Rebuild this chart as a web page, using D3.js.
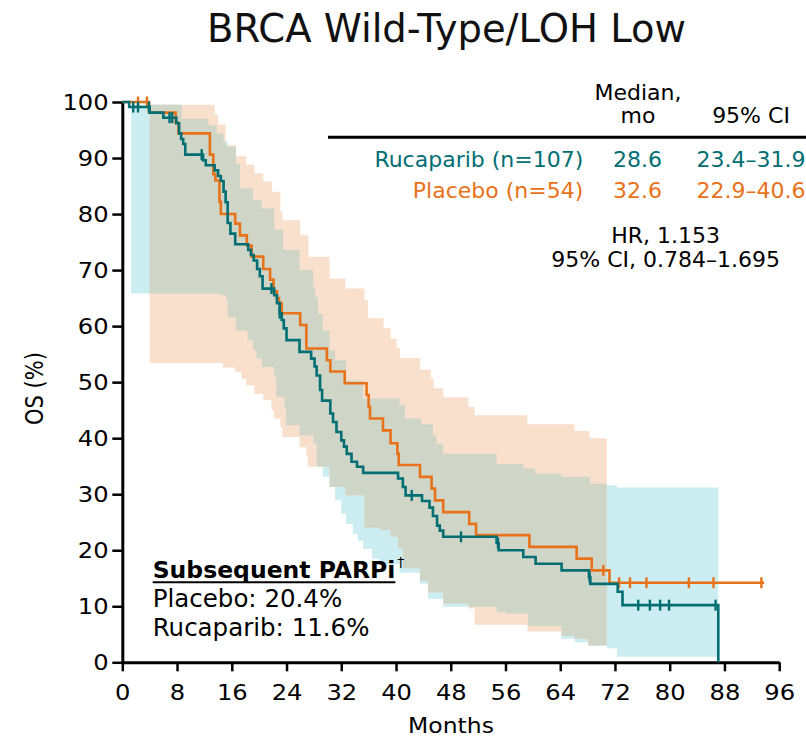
<!DOCTYPE html>
<html>
<head>
<meta charset="utf-8">
<script src="https://cdn.jsdelivr.net/npm/d3@7"></script>
<style>
  body { margin: 0; background: #fff; }
  svg { display: block; font-family: "DejaVu Sans", Verdana, sans-serif; }
</style>
</head>
<body>
<div id="chart"></div>
<script>
// ---- data ----
const xTicks = [0, 8, 16, 24, 32, 40, 48, 56, 64, 72, 80, 88, 96];
const yTicks = [0, 10, 20, 30, 40, 50, 60, 70, 80, 90, 100];

// [month, OS %] step points (Kaplan-Meier)
const rucaparibKM = [
  [0, 100], [1.0, 99.1], [4.0, 98.1], [6.0, 97.2], [7.9, 96.2], [8.3, 94.4], [8.6, 93.4],
  [8.9, 92.5], [9.2, 90.6], [11.8, 89.6], [12.2, 88.7], [13.5, 87.8], [14.0, 86.8],
  [14.4, 85.9], [14.8, 84.0], [15.1, 82.1], [15.4, 78.4], [15.8, 76.5], [16.5, 74.6],
  [18.4, 73.6], [18.8, 72.7], [19.2, 71.7], [19.7, 70.2], [20.1, 68.9], [20.5, 66.7],
  [22.2, 65.5], [22.6, 64.1], [23.0, 62.3], [23.3, 61.1], [23.6, 59.6], [24.0, 57.5],
  [25.9, 55.4], [27.6, 54.2], [28.1, 52.8], [28.4, 51.2], [28.9, 48.6], [29.2, 46.7],
  [30.4, 44.4], [30.8, 42.9], [31.3, 41.1], [32.0, 39.6], [32.4, 38.5], [32.8, 37.2],
  [33.5, 35.8], [34.3, 34.9], [35.2, 33.8], [40.3, 32.8], [41.0, 31.3], [41.4, 29.8],
  [43.8, 28.8], [44.9, 27.6], [45.4, 26.1], [46.0, 24.4], [46.4, 23.5], [46.9, 22.4],
  [54.7, 21.3], [55.0, 20.0], [58.6, 18.8], [60.4, 17.6], [64.2, 16.4], [68.2, 15.2],
  [68.4, 14.0], [72.4, 12.6], [73.1, 10.2], [87.1, 0]
];
const placeboKM = [
  [0, 100], [3.9, 98.1], [7.8, 96.3], [8.2, 94.4], [12.8, 90.6], [13.3, 87.1], [13.6, 86.0],
  [14.2, 82.2], [14.4, 80.0], [16.5, 78.3], [17.2, 76.2], [18.2, 74.4], [18.9, 72.4],
  [20.6, 70.2], [21.6, 68.3], [22.1, 66.2], [22.6, 65.0], [22.9, 64.1], [23.3, 62.3],
  [26.0, 60.2], [26.9, 56.0], [29.9, 53.9], [30.4, 51.9], [32.5, 49.8], [35.7, 47.7],
  [36.0, 45.6], [36.2, 43.5], [38.1, 41.4], [39.2, 39.1], [40.2, 37.2], [40.4, 35.2],
  [43.5, 33.1], [45.2, 31.0], [45.7, 28.9], [46.9, 26.8], [50.7, 24.7], [51.7, 22.7],
  [59.5, 20.6], [66.4, 18.5], [68.6, 16.4], [71.2, 14.2], [93.8, 14.2]
];

// censored observations (months)
const rucaparibCensor = [1.6, 2.3, 3.9, 6.9, 7.3, 11.6, 21.8, 23.0, 42.3, 49.5, 54.9, 68.3,
  75.4, 77.1, 78.6, 79.9, 86.7];
const placeboCensor = [2.3, 3.6, 70.3, 72.6, 74.2, 76.6, 82.8, 86.4, 93.4];

// 95% CI bands: [month, lower, upper]
const rucaparibBand = [
  [1.3, 65.8, 99.5], [8.7, 65.8, 97.0], [12.6, 65.8, 95.8], [13.8, 65.8, 94.4],
  [14.2, 65.5, 94.4], [14.8, 65.5, 93.0], [15.2, 64.6, 93.0], [15.4, 61.6, 92.0],
  [16.6, 59.2, 89.0], [17.2, 59.2, 84.6], [18.3, 57.5, 84.6], [19.1, 55.7, 82.5],
  [19.6, 54.2, 82.5], [20.4, 52.7, 81.0], [22.2, 50.9, 77.2], [22.5, 47.4, 77.2],
  [23.5, 47.4, 73.6], [23.7, 45.6, 73.6], [23.9, 42.3, 73.6], [25.9, 40.5, 70.0],
  [27.9, 39.0, 67.0], [28.2, 39.0, 65.2], [28.4, 35.1, 65.2], [28.6, 34.9, 62.2],
  [29.3, 33.1, 59.2], [30.3, 31.3, 55.7], [31.1, 28.9, 53.9], [32.0, 26.5, 53.9],
  [32.7, 24.7, 50.3], [33.7, 22.9, 50.3], [34.4, 21.7, 50.3], [35.2, 20.2, 47.1],
  [36.5, 18.5, 47.1], [37.5, 17.5, 47.1], [40.5, 16.0, 45.9], [41.3, 16.0, 43.5],
  [43.5, 14.0, 43.5], [43.7, 14.0, 42.5], [44.7, 11.3, 42.5], [45.4, 11.3, 40.5],
  [45.9, 11.3, 39.0], [46.9, 9.9, 37.2], [47.2, 9.9, 37.2], [54.7, 9.0, 35.4],
  [56.0, 8.7, 35.4], [58.6, 8.7, 34.6], [59.3, 6.5, 34.6], [60.3, 6.5, 33.7],
  [64.2, 4.2, 33.1], [66.1, 3.6, 33.1], [68.1, 3.0, 33.1], [68.4, 3.0, 31.9],
  [70.8, 2.5, 31.6], [72.3, 1.0, 31.2], [87.1, 1.0, 31.2]
];
const placeboBand = [
  [4.0, 53.4, 99.5], [13.5, 53.4, 97.8], [14.0, 53.4, 96.0], [14.7, 52.6, 96.0],
  [15.1, 52.6, 92.3], [16.5, 51.8, 92.3], [16.6, 51.8, 90.3], [17.4, 50.6, 90.3],
  [18.1, 49.4, 88.8], [19.3, 47.9, 87.3], [20.6, 46.8, 85.8], [21.8, 45.0, 85.8],
  [21.9, 45.0, 84.0], [22.2, 43.5, 84.0], [23.1, 42.0, 80.5], [23.4, 40.2, 78.9],
  [25.9, 38.4, 78.9], [26.0, 38.4, 76.2], [26.9, 36.7, 76.2], [27.1, 34.9, 76.2],
  [27.2, 34.9, 72.4], [30.3, 31.3, 68.5], [32.6, 29.8, 66.7], [35.4, 24.0, 64.6],
  [35.9, 24.0, 61.4], [37.6, 23.6, 61.4], [38.2, 23.6, 59.6], [39.2, 22.4, 57.8],
  [40.1, 22.4, 56.1], [40.3, 20.3, 56.1], [40.6, 20.3, 54.3], [41.0, 16.8, 54.3],
  [43.5, 14.5, 52.2], [44.7, 12.5, 52.2], [45.1, 12.5, 50.6], [45.5, 12.5, 48.9],
  [46.9, 10.5, 47.3], [50.6, 9.6, 45.6], [51.5, 6.7, 44.1], [59.2, 5.5, 42.5],
  [64.2, 4.7, 42.5], [66.1, 4.2, 41.3], [68.1, 3.0, 41.3], [68.3, 3.0, 40.0],
  [70.8, 3.0, 40.0]
];

const arms = ["Rucaparib (n=107)", "Placebo (n=54)"];
const medians = ["28.6", "32.6"];
const medianCIs = ["23.4\u201331.9", "22.9\u201340.6"];
const hrLines = ["HR, 1.153", "95% CI, 0.784\u20131.695"];
const parpiLines = ["Placebo: 20.4%", "Rucaparib: 11.6%"];

const teal = "#006e73";
const orange = "#e8721a";

// ---- chart ----
const width = 806, height = 738;
const svg = d3.select("#chart").append("svg")
  .attr("width", width)
  .attr("height", height);

const x = d3.scaleLinear().domain([0, 96]).range([122.3, 779.2]);
const y = d3.scaleLinear().domain([0, 100]).range([662.3, 102]);

const stepAt = (arr, t) => {
  let v = arr[0];
  for (const d of arr) { if (d[0] <= t) v = d; else break; }
  return v;
};

// overlap of the two CI bands
const oStart = Math.max(rucaparibBand[0][0], placeboBand[0][0]);
const oEnd = Math.min(rucaparibBand[rucaparibBand.length - 1][0], placeboBand[placeboBand.length - 1][0]);
const oMonths = Array.from(new Set(rucaparibBand.concat(placeboBand).map(d => d[0])
  .filter(m => m >= oStart && m <= oEnd).concat([oStart, oEnd]))).sort((a, b) => a - b);
const overlapBand = oMonths.map(m => {
  const a = stepAt(rucaparibBand, m), b = stepAt(placeboBand, m);
  const lo = Math.max(a[1], b[1]);
  const hi = Math.min(a[2], b[2]);
  return [m, lo, Math.max(lo, hi)];
});

const band = d3.area()
  .curve(d3.curveStepAfter)
  .x(d => x(d[0]))
  .y0(d => y(d[1]))
  .y1(d => y(d[2]));

svg.append("path").attr("d", band(rucaparibBand)).attr("fill", "#ccedf1");
svg.append("path").attr("d", band(placeboBand)).attr("fill", "#f9e0cd");
svg.append("path").attr("d", band(overlapBand)).attr("fill", "#d0d6c7");

// axes
const yAxis = svg.append("g")
  .attr("transform", `translate(${x(0)},0)`)
  .call(d3.axisLeft(y).tickValues(yTicks).tickSize(10).tickSizeOuter(0));
const xAxis = svg.append("g")
  .attr("transform", `translate(0,${y(0)})`)
  .call(d3.axisBottom(x).tickValues(xTicks).tickSize(9).tickSizeOuter(0));

[yAxis, xAxis].forEach(g => {
  g.select(".domain").attr("stroke", "#000").attr("stroke-width", 3);
  g.selectAll(".tick line").attr("stroke", "#000").attr("stroke-width", 2.5);
  g.selectAll(".tick text")
    .attr("fill", "#000")
    .style("font-size", "20.5px")
    .style("font-family", "'DejaVu Sans', Verdana, sans-serif");
});
yAxis.selectAll(".tick text").attr("x", -11.6).attr("dy", "0.36em").attr("transform", "scale(1.18,1)");
xAxis.selectAll(".tick text").attr("y", 23).attr("dy", "0.71em").attr("transform", "scale(1.18,1)");

// KM curves
const km = d3.line()
  .curve(d3.curveStepAfter)
  .x(d => x(d[0]))
  .y(d => y(d[1]));

const drawArm = (data, censor, color) => {
  svg.append("path")
    .attr("d", km(data))
    .attr("fill", "none")
    .attr("stroke", color)
    .attr("stroke-width", 2.6);
  svg.append("g").selectAll("line")
    .data(censor)
    .join("line")
    .attr("x1", d => x(d))
    .attr("x2", d => x(d))
    .attr("y1", d => y(stepAt(data, d)[1]) - 5.5)
    .attr("y2", d => y(stepAt(data, d)[1]) + 5.5)
    .attr("stroke", color)
    .attr("stroke-width", 2.4);
};
drawArm(placeboKM, placeboCensor, orange);
drawArm(rucaparibKM, rucaparibCensor, teal);

// title and axis labels
svg.append("text")
  .attr("x", 446.5)
  .attr("y", 41.7)
  .attr("text-anchor", "middle")
  .style("font-size", "38.5px")
  .attr("fill", "#111")
  .text("BRCA Wild-Type/LOH Low");

svg.append("text")
  .attr("transform", "translate(451,733) scale(1.12,1)")
  .attr("text-anchor", "middle")
  .style("font-size", "21px")
  .text("Months");

svg.append("text")
  .attr("transform", "translate(43,388.5) scale(1.15,1) rotate(-90)")
  .attr("text-anchor", "middle")
  .style("font-size", "21px")
  .text("OS (%)");

// median table
const table = svg.append("g").style("font-size", "22px");
table.append("text").attr("x", 638).attr("y", 100).attr("text-anchor", "middle").text("Median,");
table.append("text").attr("x", 638).attr("y", 123.3).attr("text-anchor", "middle").text("mo");
table.append("text").attr("x", 751).attr("y", 123.3).attr("text-anchor", "middle").text("95% CI");
table.append("line")
  .attr("x1", 328).attr("x2", 806)
  .attr("y1", 137.3).attr("y2", 137.3)
  .attr("stroke", "#000").attr("stroke-width", 3);

const rowY = [166.7, 198.3];
const rowColor = [teal, orange];
arms.forEach((a, i) => {
  table.append("text").attr("x", 583.3).attr("y", rowY[i]).attr("text-anchor", "end")
    .attr("fill", rowColor[i]).text(a);
  table.append("text").attr("x", 637.5).attr("y", rowY[i]).attr("text-anchor", "middle")
    .attr("fill", rowColor[i]).text(medians[i]);
  table.append("text").attr("x", 751).attr("y", rowY[i]).attr("text-anchor", "middle")
    .attr("fill", rowColor[i]).text(medianCIs[i]);
});
hrLines.forEach((t, i) => {
  table.append("text").attr("x", 665.6).attr("y", 243.3 + i * 24)
    .attr("text-anchor", "middle").text(t);
});

// subsequent PARPi note
const note = svg.append("g");
const head = note.append("text")
  .attr("x", 152.7).attr("y", 577.5)
  .style("font-size", "23.5px")
  .style("font-weight", "bold")
  .text("Subsequent PARPi");
const headW = head.node().getComputedTextLength();
note.append("line")
  .attr("x1", 152.7).attr("x2", 152.7 + headW)
  .attr("y1", 582.3).attr("y2", 582.3)
  .attr("stroke", "#000").attr("stroke-width", 2);
note.append("text")
  .attr("x", 152.7 + headW + 2).attr("y", 567)
  .style("font-size", "14px")
  .text("\u2020");
parpiLines.forEach((t, i) => {
  note.append("text")
    .attr("x", 152.7).attr("y", 606.7 + i * 29)
    .style("font-size", "24.5px")
    .text(t);
});
</script>
</body>
</html>
